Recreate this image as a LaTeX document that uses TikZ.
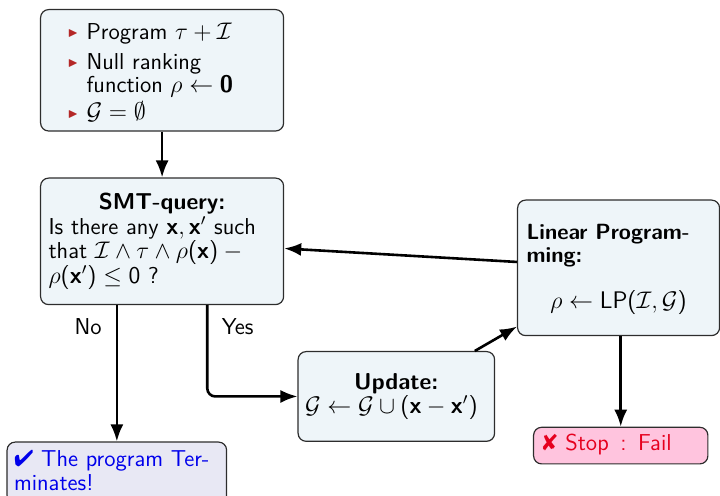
\documentclass[tikz,border=0pt]{standalone}
\usepackage{amssymb}
\usepackage{pifont}
\usetikzlibrary{arrows.meta}

% sans text, sans digits / parentheses / bold vectors in math
\renewcommand{\familydefault}{\sfdefault}
\DeclareSymbolFont{operators}{OT1}{cmss}{m}{n}
\SetSymbolFont{operators}{bold}{OT1}{cmss}{bx}{n}
\SetMathAlphabet{\mathbf}{normal}{OT1}{cmss}{bx}{n}

\definecolor{boxfill}{RGB}{238,245,249}
\definecolor{boxline}{RGB}{45,45,45}
\definecolor{termfill}{RGB}{232,232,244}
\definecolor{stopfill}{RGB}{255,196,222}
\definecolor{termblue}{RGB}{0,0,235}
\definecolor{stopred}{RGB}{230,0,30}
\definecolor{bulletred}{RGB}{180,40,40}

\newcommand{\itm}{\makebox[9.5pt][l]{\color{bulletred}\fontsize{6}{6}\selectfont\raisebox{1.4pt}{$\blacktriangleright$}}}

\tikzset{
  box/.style={draw=boxline, line width=0.6pt, rounded corners=4pt, fill=boxfill,
    anchor=north west, inner ysep=0pt, align=left,
    font=\fontsize{11.5}{12.25}\selectfont},
  flow/.style={draw, line width=1.3pt, -{Latex[length=8.5pt,width=6.5pt]}},
  lbl/.style={font=\fontsize{11.5}{12.25}\selectfont, inner sep=0pt},
}

\begin{document}
\begin{tikzpicture}[x=0.5pt,y=-0.5pt]
\useasboundingbox (0,0) rectangle (720,496);

% initialisation
\node[box, inner xsep=13.5pt, text width=94.5pt, text height=15pt, text depth=45.7pt,
      font=\fontsize{11.5}{11.5}\selectfont] (init) at (40,9)
  {\itm Program $\tau+\mathcal{I}$\\[3.5pt]
   \itm Null ranking\\
   \hspace*{9.5pt}function $\rho\leftarrow\mathbf{0}$\\[2.15pt]
   \itm $\mathcal{G}=\emptyset$};

% SMT query
\node[box, inner xsep=4pt, text width=113.5pt, text height=15.9pt, text depth=47.35pt] (smt) at (40,177.5)
  {\makebox[\linewidth]{\textbf{SMT-query:}}\\
   Is there any $\mathbf{x},\mathbf{x}'$ such\\
   that $\mathcal{I}\wedge\tau\wedge\rho(\mathbf{x})-{}$\\
   $\rho(\mathbf{x}')\leq 0$ ?};

% linear programming
\node[box, inner xsep=4.5pt, text width=92pt, text height=19.9pt, text depth=47.85pt] (lp) at (517,199.5)
  {{\fontsize{11}{12.25}\selectfont\textbf{Linear Program-}}\\[-1pt]
   {\fontsize{11}{12.25}\selectfont\textbf{ming:}}\\[11pt]
   \makebox[\linewidth]{$\rho\leftarrow\mathrm{LP}(\mathcal{I},\mathcal{G})$}};

% update of the generator set
\node[box, inner xsep=3.5pt, text width=91.25pt, text height=19.15pt, text depth=25.7pt] (upd) at (297.5,351)
  {\makebox[\linewidth]{\textbf{Update:}}\\[-0.5pt]
   $\mathcal{G}\leftarrow\mathcal{G}\cup(\mathbf{x}-\mathbf{x}')$};

% outcomes
\node[box, fill=termfill, text=termblue, inner xsep=3.5pt, text width=102.75pt,
      text height=12pt, text depth=18.75pt] (term) at (6.5,441.5)
  {\ding{52} The program Ter-\\minates!};
\node[box, fill=stopfill, text=stopred, inner xsep=4.25pt, text width=78.65pt,
      text height=11.65pt, text depth=6.65pt] (stop) at (533,426.7)
  {\ding{56} Stop\ \,:\ \,Fail};

% connectors
\draw[flow] (init) -- (smt);
\draw[flow] (lp) -- (smt);
\draw[flow] (upd) -- (lp);
\draw[flow] (stop.north |- lp.south) -- (stop.north);
\draw[flow] (term.north |- smt.south) -- (term.north);
\draw[flow, rounded corners=4pt] ([xshift=22.6pt]smt.south) |- (upd.west);

\node[lbl, anchor=base east] (nolbl) at (102,335) {No};
\node[lbl, anchor=base west] (yeslbl) at (221.5,334.5) {Yes};
\end{tikzpicture}
\end{document}
